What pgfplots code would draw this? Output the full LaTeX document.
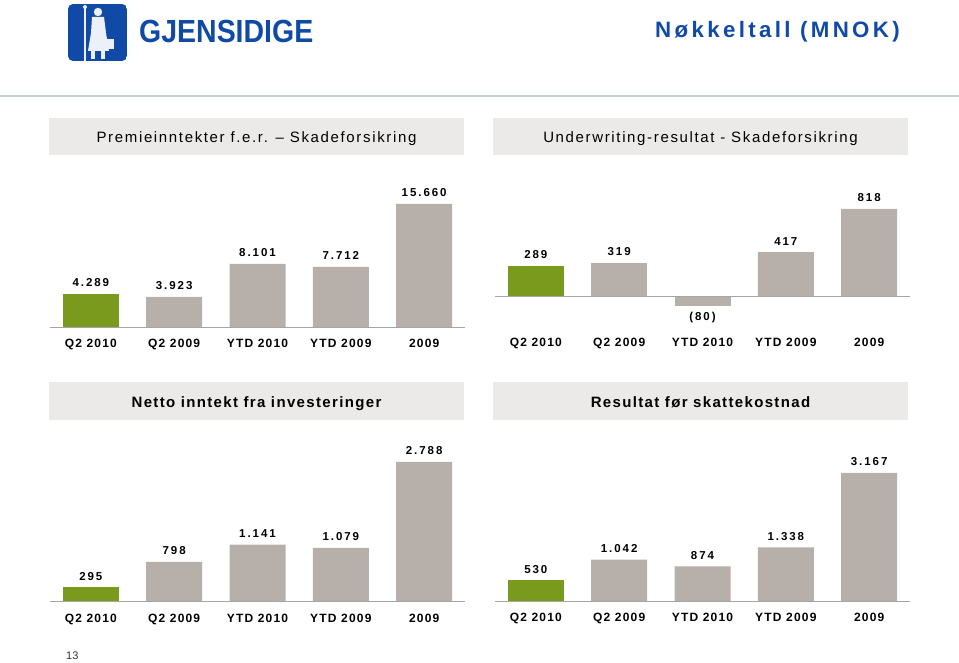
\documentclass[border=0pt]{standalone}
\usepackage{fontspec}
\setmainfont{Liberation Sans}
\newfontfamily\tickfont{Liberation Sans}[LetterSpace=10]
\newfontfamily\valfont{Liberation Sans}[LetterSpace=17]
\newfontfamily\headfont{Liberation Sans}[LetterSpace=11]
\newfontfamily\headbfont{Liberation Sans}[LetterSpace=9]
\newfontfamily\titlefont{Liberation Sans}[LetterSpace=15]
\usepackage{pgfplots}
\pgfplotsset{compat=1.18}
\usepackage{pgfplotstable}
\definecolor{bargreen}{RGB}{122,154,30}
\definecolor{bargrey}{RGB}{183,175,170}
\definecolor{basecol}{RGB}{165,165,165}
\definecolor{headbox}{RGB}{236,234,233}
\definecolor{gblue}{RGB}{16,74,166}
\definecolor{linecol}{RGB}{198,206,214}

\pgfplotstableread{
x y lab
0 4289 4.289
1 3923 3.923
2 8101 8.101
3 7712 7.712
4 15660 15.660
}\tPrem
\pgfplotstableread{
x y lab
0 289 289
1 319 319
2 -80 (80)
3 417 417
4 818 818
}\tUw
\pgfplotstableread{
x y lab
0 295 295
1 798 798
2 1141 1.141
3 1079 1.079
4 2788 2.788
}\tInv
\pgfplotstableread{
x y lab
0 530 530
1 1042 1.042
2 874 874
3 1338 1.338
4 3167 3.167
}\tRes

\pgfplotsset{
  panel/.style={
    scale only axis, width=415pt, xmin=-0.49, xmax=4.49,
    axis line style={draw=none}, ytick=\empty, xtick={0,1,2,3,4},
    xticklabels={Q2 2010,Q2 2009,YTD 2010,YTD 2009,2009},
    xtick style={draw=none}, major tick length=0pt,
    xticklabel style={font=\tickfont\bfseries\fontsize{12}{12}\selectfont, anchor=base, inner sep=0pt},
    ybar, clip=false,
    nodes near coords, point meta=explicit symbolic,
    every node near coord/.append style={font=\valfont\bfseries\fontsize{11.5}{12}\selectfont, inner sep=0pt, outer sep=7pt, text=black},
    anchor=south west,
  },
  gbar/.style={fill=bargreen, draw=none, bar shift=0pt, bar width=56pt, restrict x to domain=-0.5:0.5},
  obar/.style={fill=bargrey, draw=none, bar shift=0pt, bar width=56pt, restrict x to domain=0.5:4.5},
  obarx/.style={fill=bargrey, draw=none, bar shift=0pt, bar width=56pt},
}

\begin{document}
\begin{tikzpicture}
\path (0pt,0pt) rectangle (959pt,663pt);
% top separator line
\fill[linecol] (0pt,565.5pt) rectangle (959pt,567.5pt);
% logo
\begin{scope}
\clip[rounded corners=5pt] (68pt,602pt) rectangle (127pt,659pt);
\fill[gblue] (68pt,602pt) rectangle (127pt,659pt);
\fill[white!92!gblue] (98pt,651pt) circle (4.2pt);
\fill[white!92!gblue] (92pt,646pt) -- (104pt,646pt) -- (106pt,630pt) -- (109pt,612pt) -- (88pt,612pt) -- (91pt,630pt) -- cycle;
\fill[white!92!gblue] (91pt,612pt) rectangle (95pt,604pt);
\fill[white!92!gblue] (101pt,612pt) rectangle (105pt,604pt);
\draw[white!92!gblue, line width=1.3pt] (85pt,655pt) -- (85pt,602pt);
\fill[white!92!gblue] (85pt,656pt) circle (2pt);
\fill[white!92!gblue] (106pt,614pt) rectangle (114pt,624pt);
\end{scope}
\node[anchor=base west, inner sep=0pt, text=gblue] at (139pt,620pt)
  {\scalebox{0.89}[1]{\fontsize{32}{32}\selectfont\bfseries GJENSIDIGE}};
% main title
\node[anchor=base east, inner sep=0pt, text=gblue] at (900pt,625.3pt)
  {\titlefont\bfseries\fontsize{22.3}{22}\selectfont Nøkkeltall (MNOK)};
% heading boxes
\fill[headbox] (49pt,508pt) rectangle (464pt,545pt);
\fill[headbox] (493pt,508pt) rectangle (908pt,545pt);
\fill[headbox] (49pt,243pt) rectangle (464pt,281pt);
\fill[headbox] (493pt,243pt) rectangle (908pt,281pt);
\node[anchor=base, inner sep=0pt] at (256.5pt,520.6pt) {\headfont\fontsize{15}{15}\selectfont Premieinntekter f.e.r. – Skadeforsikring};
\node[anchor=base, inner sep=0pt] at (700.5pt,520.6pt) {\headfont\fontsize{15}{15}\selectfont Underwriting-resultat - Skadeforsikring};
\node[anchor=base, inner sep=0pt] at (256.5pt,255.3pt) {\headbfont\bfseries\fontsize{15}{15}\selectfont Netto inntekt fra investeringer};
\node[anchor=base, inner sep=0pt] at (700.5pt,255.3pt) {\headbfont\bfseries\fontsize{15}{15}\selectfont Resultat før skattekostnad};
% slide number
\node[anchor=base west, inner sep=0pt, text=black!80] at (66pt,3pt) {\fontsize{11}{11}\selectfont 13};

% panel 1
\begin{axis}[panel, at={(50pt,335pt)}, height=124pt, ymin=0, ymax=15660,
  xticklabel style={yshift=-20pt}]
\addplot[gbar] table[x=x,y=y,meta=lab] {\tPrem};
\addplot[obar] table[x=x,y=y,meta=lab] {\tPrem};
\draw[basecol, line width=1pt] (axis cs:-0.49,0) -- (axis cs:4.49,0);
\end{axis}
% panel 2
\begin{axis}[panel, at={(495pt,357.4pt)}, height=96.6pt, ymin=-80, ymax=818,
  xticklabel style={yshift=-41.4pt}]
\addplot[gbar] table[x=x,y=y,meta=lab] {\tUw};
\addplot[obarx, restrict x to domain=0.5:1.5] table[x=x,y=y,meta=lab] {\tUw};
\addplot[obarx, restrict x to domain=1.5:2.5,
  every node near coord/.append style={anchor=north}] table[x=x,y=y,meta=lab] {\tUw};
\addplot[obarx, restrict x to domain=2.5:4.5] table[x=x,y=y,meta=lab] {\tUw};
\draw[basecol, line width=1pt] (axis cs:-0.49,0) -- (axis cs:4.49,0);
\end{axis}
% panel 3
\begin{axis}[panel, at={(50pt,61pt)}, height=140pt, ymin=0, ymax=2788,
  xticklabel style={yshift=-20.5pt}]
\addplot[gbar] table[x=x,y=y,meta=lab] {\tInv};
\addplot[obar] table[x=x,y=y,meta=lab] {\tInv};
\draw[basecol, line width=1pt] (axis cs:-0.49,0) -- (axis cs:4.49,0);
\end{axis}
% panel 4
\begin{axis}[panel, at={(495pt,61pt)}, height=129pt, ymin=0, ymax=3167,
  xticklabel style={yshift=-19.5pt}]
\addplot[gbar] table[x=x,y=y,meta=lab] {\tRes};
\addplot[obar] table[x=x,y=y,meta=lab] {\tRes};
\draw[basecol, line width=1pt] (axis cs:-0.49,0) -- (axis cs:4.49,0);
\end{axis}
\end{tikzpicture}
\end{document}
